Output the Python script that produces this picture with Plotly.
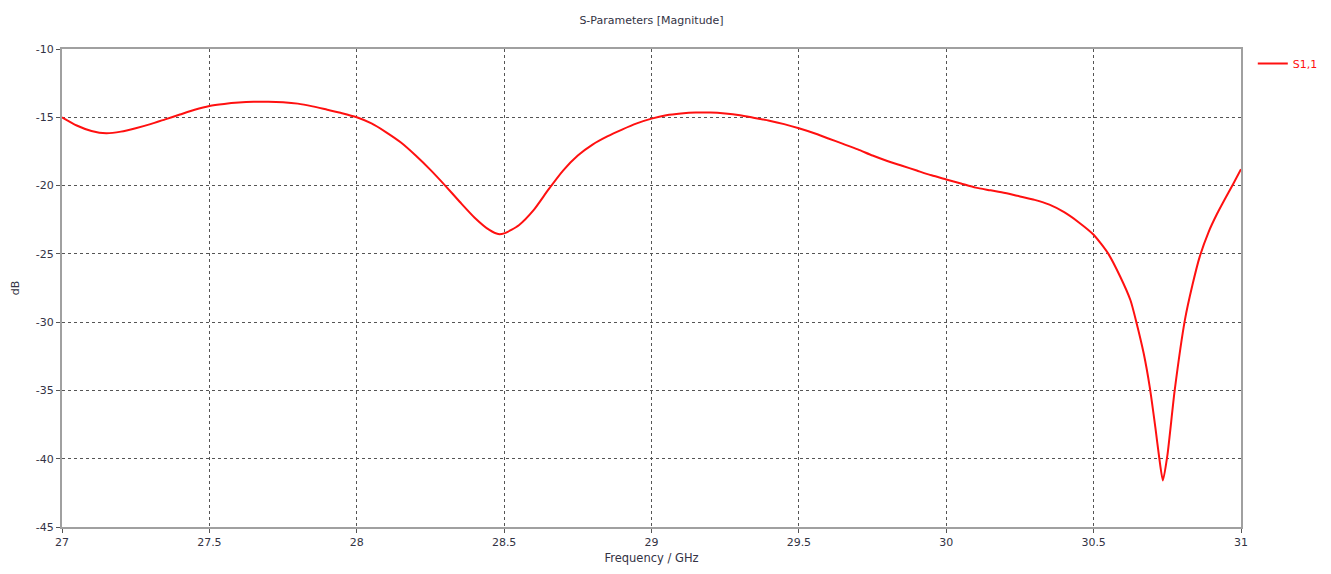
import plotly.graph_objects as go

freq_ghz = [27.00, 27.05, 27.10, 27.15, 27.20, 27.25, 27.30, 27.35, 27.40, 27.45,
            27.50, 27.55, 27.60, 27.65, 27.70, 27.75, 27.80, 27.85, 27.90, 27.95,
            28.00, 28.05, 28.10, 28.15, 28.20, 28.25, 28.30, 28.35, 28.40, 28.45,
            28.48, 28.50, 28.55, 28.60, 28.65, 28.70, 28.75, 28.80, 28.85, 28.90,
            28.95, 29.00, 29.05, 29.10, 29.15, 29.20, 29.25, 29.30, 29.35, 29.40,
            29.45, 29.50, 29.55, 29.60, 29.65, 29.70, 29.75, 29.80, 29.85, 29.90,
            29.95, 30.00, 30.05, 30.10, 30.15, 30.20, 30.25, 30.30, 30.35, 30.40,
            30.45, 30.50, 30.55, 30.59, 30.625, 30.645, 30.67, 30.69, 30.71, 30.723,
            30.735, 30.75, 30.775, 30.81, 30.835, 30.86, 30.89, 30.918, 30.945, 30.973,
            31.00]
s11_db = [-15.0, -15.6, -16.0, -16.17, -16.05, -15.8, -15.5, -15.15, -14.8, -14.45,
          -14.17, -14.02, -13.92, -13.87, -13.86, -13.9, -14.0, -14.2, -14.45, -14.7,
          -15.0, -15.45, -16.1, -16.85, -17.8, -18.85, -20.0, -21.2, -22.35, -23.25,
          -23.55, -23.5, -22.9, -21.8, -20.3, -18.9, -17.8, -17.0, -16.4, -15.9,
          -15.45, -15.1, -14.85, -14.72, -14.65, -14.65, -14.72, -14.85, -15.05, -15.25,
          -15.5, -15.8, -16.15, -16.55, -16.95, -17.35, -17.8, -18.2, -18.55, -18.9,
          -19.25, -19.55, -19.85, -20.15, -20.35, -20.55, -20.8, -21.05, -21.4, -21.95,
          -22.7, -23.6, -25.0, -26.66, -28.4, -30.0, -32.3, -34.7, -37.8, -40.0,
          -41.6, -39.8, -35.0, -29.8, -27.3, -25.2, -23.4, -22.1, -21.0, -19.9,
          -18.8]

x_ticks = [27, 27.5, 28, 28.5, 29, 29.5, 30, 30.5, 31]
x_tick_labels = ["27", "27.5", "28", "28.5", "29", "29.5", "30", "30.5", "31"]
y_ticks = [-10, -15, -20, -25, -30, -35, -40, -45]
y_tick_labels = ["-10", "-15", "-20", "-25", "-30", "-35", "-40", "-45"]

FONT = "DejaVu Sans"
TXT = "#333344"

fig = go.Figure()
fig.add_trace(go.Scatter(x=freq_ghz, y=s11_db, mode="lines", name="S1,1",
                         line=dict(color="#ff1010", width=2, shape="spline", smoothing=0.6)))

fig.update_layout(
    width=1331, height=574,
    margin=dict(l=62, r=90, t=49, b=47, autoexpand=False),
    paper_bgcolor="white", plot_bgcolor="white",
    title=dict(text="S-Parameters [Magnitude]", x=0.4895, xanchor="center", y=1 - 20 / 574,
               yanchor="middle", font=dict(family=FONT, size=11, color=TXT)),
    font=dict(family=FONT, size=11, color=TXT),
    showlegend=True,
    legend=dict(x=1.01, y=1.0, xanchor="left", yanchor="top", bgcolor="rgba(0,0,0,0)",
                font=dict(family=FONT, size=11, color="#ff1010"), itemwidth=30,
                tracegroupgap=0),
)
fig.update_xaxes(range=[27, 31], tickvals=x_ticks, ticktext=x_tick_labels,
                 showline=True, linecolor="#a0a0a0", linewidth=2, mirror=True,
                 ticks="outside", ticklen=4, tickcolor="#555555",
                 showgrid=True, gridcolor="#555555", griddash="dot", gridwidth=1,
                 zeroline=False, automargin=False,
                 title=dict(text="Frequency / GHz", font=dict(family=FONT, size=11.5, color=TXT), standoff=6),
                 tickfont=dict(family=FONT, size=11, color=TXT))
fig.update_yaxes(range=[-45, -10], tickvals=y_ticks, ticktext=y_tick_labels,
                 showline=True, linecolor="#a0a0a0", linewidth=2, mirror=True,
                 ticks="outside", ticklen=4, tickcolor="#555555",
                 showgrid=True, gridcolor="#555555", griddash="dot", gridwidth=1,
                 zeroline=False, automargin=False,
                 title=dict(text="dB", font=dict(family=FONT, size=11, color=TXT), standoff=14),
                 tickfont=dict(family=FONT, size=11, color=TXT))

fig.write_html("out.html", config={"displayModeBar": False},
               post_script="document.body.style.margin='0';")
